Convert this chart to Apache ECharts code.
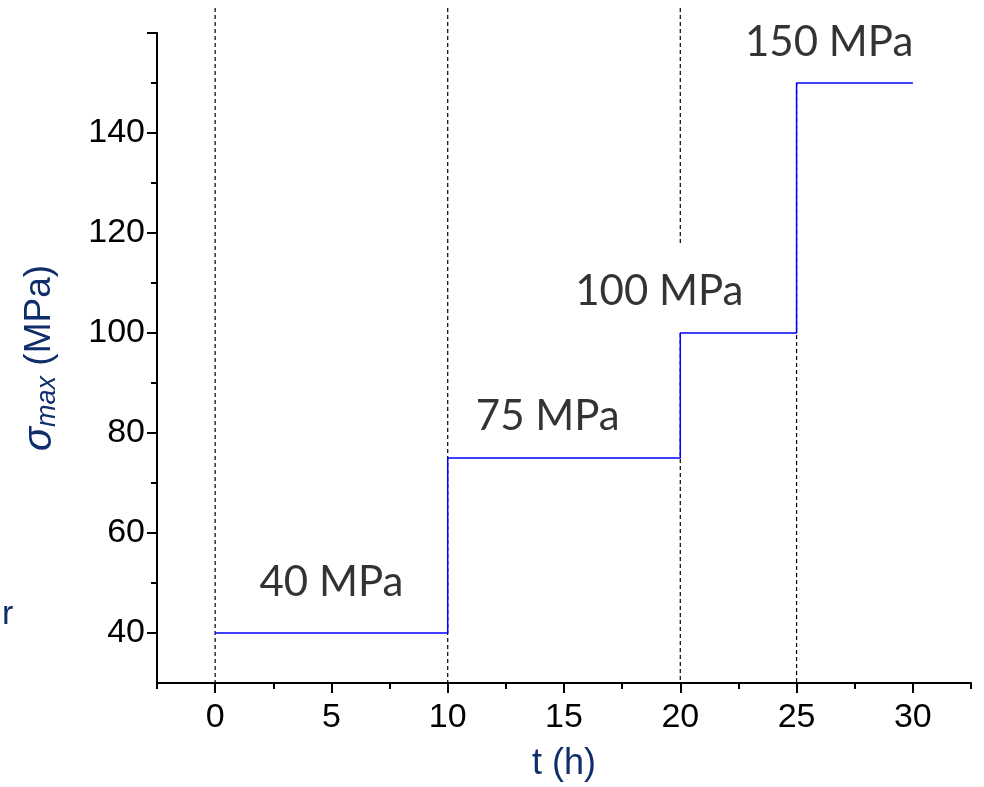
<!DOCTYPE html>
<html><head><meta charset="utf-8">
<script src="https://cdn.jsdelivr.net/npm/echarts@6/dist/echarts.min.js"></script>
<style>html,body{margin:0;padding:0;background:#fff}#c{width:984px;height:787px}</style>
</head><body><div id="c"></div>
<script>
// step data
const times = [0, 10, 20, 25, 30];
const stress = [40, 75, 100, 150, 150];
// stage labels
const stageText = ['40 MPa', '75 MPa', '100 MPa', '150 MPa'];
const stageX = [5, 14.3, 19.1, 26.4];
const stageY = [50.2, 83.3, 108.3, 158.2];
// dashed guide segments
const guideX = [0, 10, 20, 20, 25];
const guideTop = [165, 165, 165, 100, 150];
const guideBottom = [30, 30, 117.5, 30, 30];
// ticks
const xMajor = [0, 5, 10, 15, 20, 25, 30];
const xMinor = [-2.5, 2.5, 7.5, 12.5, 17.5, 22.5, 27.5, 32.5];
const yMajor = [40, 60, 80, 100, 120, 140, 160];
const yLabels = [40, 60, 80, 100, 120, 140];
const yMinor = [50, 70, 90, 110, 130, 150];

const navy = '#0f2d6b';
const chart = echarts.init(document.getElementById('c'));
const series = [];
guideX.forEach((x, i) => {
  series.push({
    type: 'line', xAxisIndex: 0, yAxisIndex: 0, clip: false, symbol: 'none', silent: true,
    lineStyle: { color: '#000', width: 1.2, type: [4, 3] },
    data: [[x, guideTop[i]], [x, guideBottom[i]]], z: 2
  });
});
series.push({
  type: 'line', step: 'end', symbol: 'none', clip: false,
  lineStyle: { color: '#0000ff', width: 1.5 },
  data: times.map((t, i) => [t, stress[i]]), z: 3
});
series.push({
  type: 'scatter', symbolSize: 0, clip: false,
  data: stageX.map((x, i) => ({ value: [x, stageY[i]], name: stageText[i] })),
  label: { show: true, position: 'inside', formatter: p => p.name, color: '#000',
           fontFamily: 'Lato', fontSize: 42 }
});
chart.setOption({
  animation: false,
  grid: { left: 157, right: 13, top: 33, bottom: 99 },
  xAxis: [{
    type: 'value', min: -2.5, max: 32.5,
    name: 't (h)', nameLocation: 'middle', nameGap: 63,
    nameTextStyle: { color: navy, fontSize: 36, fontFamily: 'Liberation Sans' },
    axisLine: { onZero: false, lineStyle: { color: '#000', width: 2 } },
    axisTick: { show: true, length: 10, lineStyle: { color: '#000', width: 2 }, customValues: xMajor },
    axisLabel: { color: '#000', fontSize: 34, fontFamily: 'Liberation Sans', margin: 18, customValues: xMajor },
    splitLine: { show: false }
  }, {
    type: 'value', min: -2.5, max: 32.5, position: 'bottom', gridIndex: 0,
    axisLine: { show: false, onZero: false },
    axisTick: { show: true, length: 6, lineStyle: { color: '#000', width: 2 }, customValues: xMinor },
    axisLabel: { show: false },
    splitLine: { show: false }
  }],
  yAxis: [{
    type: 'value', min: 30, max: 160,
    name: '{s|σ}{sub|max}{n| (MPa)}', nameLocation: 'middle', nameGap: 96, nameRotate: 90,
    nameTextStyle: {
      color: navy,
      rich: {
        s: { fontSize: 40, fontStyle: 'italic', fontFamily: 'Liberation Sans', color: navy },
        sub: { fontSize: 27, fontStyle: 'italic', fontFamily: 'Liberation Sans', color: navy, padding: [16, 0, 0, 0] },
        n: { fontSize: 37, fontFamily: 'Liberation Sans', color: navy }
      }
    },
    axisLine: { show: true, onZero: false, lineStyle: { color: '#000', width: 2 } },
    axisTick: { show: true, length: 10, lineStyle: { color: '#000', width: 2 }, customValues: yMajor },
    axisLabel: { color: '#000', fontSize: 34, fontFamily: 'Liberation Sans', margin: 12, customValues: yLabels },
    splitLine: { show: false }
  }, {
    type: 'value', min: 30, max: 160, position: 'left', gridIndex: 0,
    axisLine: { show: false, onZero: false },
    axisTick: { show: true, length: 6, lineStyle: { color: '#000', width: 2 }, customValues: yMinor },
    axisLabel: { show: false },
    splitLine: { show: false }
  }],
  graphic: [{
    type: 'text', left: 2, top: 598,
    style: { text: 'r', fill: navy, fontSize: 34, fontFamily: 'Liberation Sans' }
  }],
  series: series
});
</script></body></html>
